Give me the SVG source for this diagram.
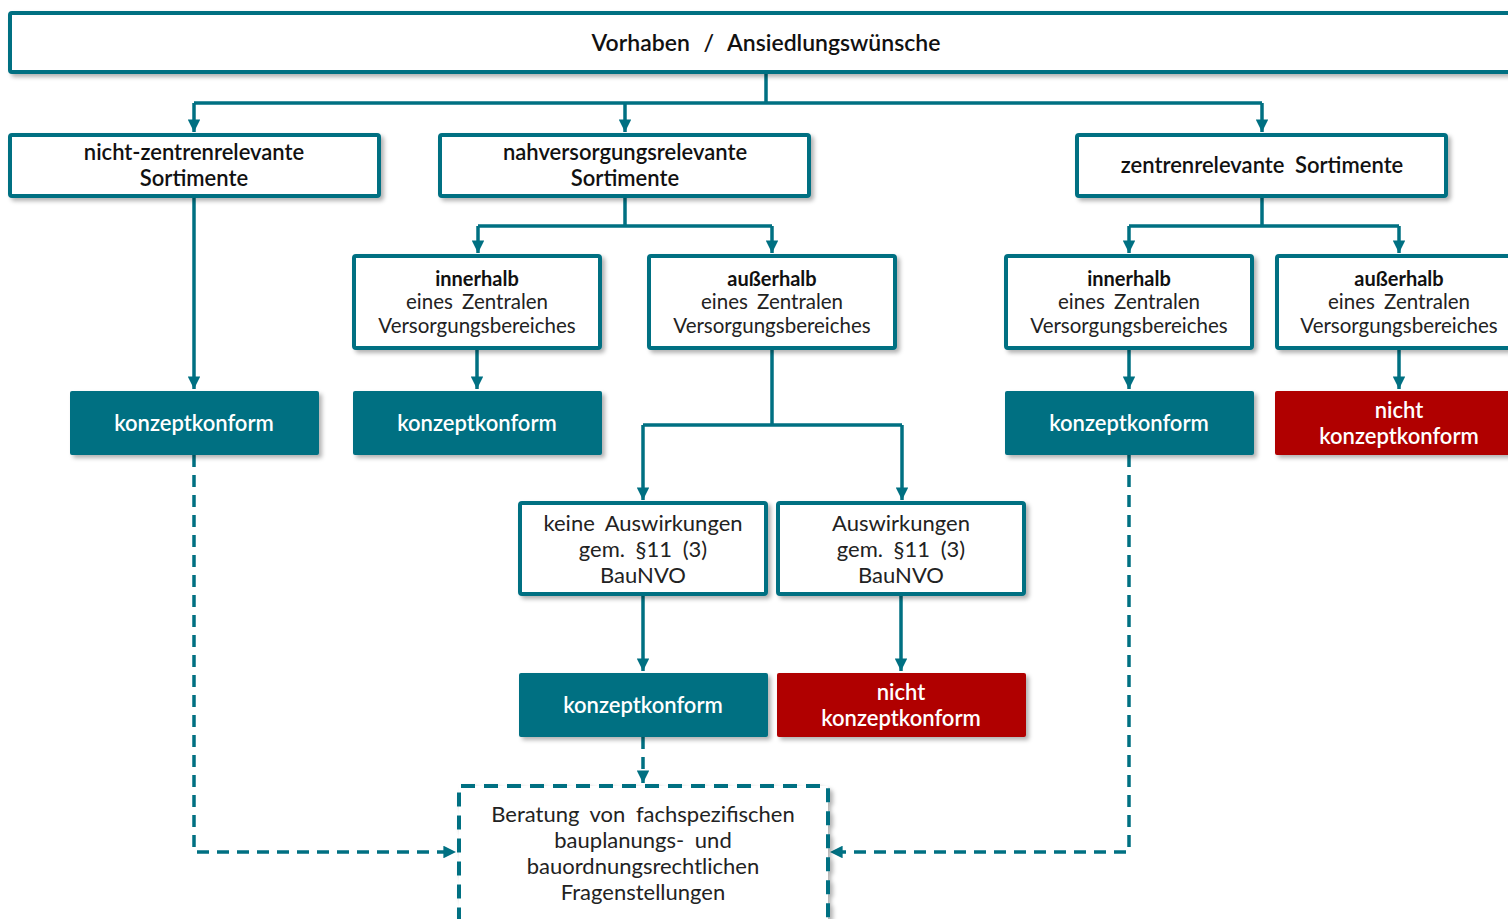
<svg xmlns="http://www.w3.org/2000/svg" width="1508" height="919" viewBox="0 0 1508 919">
<style>
.box{fill:#fff;stroke:#007082;stroke-width:4;filter:url(#sh)}
.ok{fill:#007082;filter:url(#sh)}
.no{fill:#b00000;filter:url(#sh)}
.dbox{fill:#fff;stroke:#007082;stroke-width:4;stroke-dasharray:14 9;filter:url(#sh)}
.ln{fill:none;stroke:#007082;stroke-width:3.5}
.dl{fill:none;stroke:#007082;stroke-width:3.5;stroke-dasharray:12 8}
text{font-family:Lato,"Liberation Sans",sans-serif;text-anchor:middle}
.h{font-size:22px;font-weight:600;fill:#111}
.t{font-size:20.5px;fill:#222;word-spacing:4px}
.b{font-size:20px;font-weight:700;fill:#111}
.w{font-size:22px;font-weight:600;fill:#fff}
.m{font-size:22px;fill:#222;word-spacing:5px}
</style>
<defs>
<filter id="sh" x="-5%" y="-10%" width="115%" height="130%"><feDropShadow dx="3" dy="3" stdDeviation="2" flood-color="#000" flood-opacity="0.3"/></filter>
<marker id="ar" viewBox="0 0 10 10" refX="10" refY="5" markerWidth="3.6" markerHeight="3.6" orient="auto" markerUnits="strokeWidth"><path d="M0,0 L10,5 L0,10 z" fill="#007082"/></marker>
</defs>
<g id="connectors">
<path class="ln" d="M766,72 V103 M194,103 H1262" />
<path class="ln" d="M194,103 V132" marker-end="url(#ar)"/>
<path class="ln" d="M625,103 V132" marker-end="url(#ar)"/>
<path class="ln" d="M1262,103 V132" marker-end="url(#ar)"/>
<path class="ln" d="M194,196 V389" marker-end="url(#ar)"/>
<path class="ln" d="M625,196 V226 M478,226 H772"/>
<path class="ln" d="M478,226 V253" marker-end="url(#ar)"/>
<path class="ln" d="M772,226 V253" marker-end="url(#ar)"/>
<path class="ln" d="M1262,196 V226 M1129,226 H1399"/>
<path class="ln" d="M1129,226 V253" marker-end="url(#ar)"/>
<path class="ln" d="M1399,226 V253" marker-end="url(#ar)"/>
<path class="ln" d="M477,348 V389" marker-end="url(#ar)"/>
<path class="ln" d="M1129,348 V389" marker-end="url(#ar)"/>
<path class="ln" d="M1399,348 V389" marker-end="url(#ar)"/>
<path class="ln" d="M772,348 V425 M643,425 H902"/>
<path class="ln" d="M643,425 V500" marker-end="url(#ar)"/>
<path class="ln" d="M902,425 V500" marker-end="url(#ar)"/>
<path class="ln" d="M643,594 V671" marker-end="url(#ar)"/>
<path class="ln" d="M901,594 V671" marker-end="url(#ar)"/>
<path class="dl" d="M194,455 V852 H456" marker-end="url(#ar)"/>
<path class="dl" d="M1129,455 V852 H830" marker-end="url(#ar)"/>
<path class="dl" d="M643,737 V783" marker-end="url(#ar)"/>
</g>
<g id="top"><rect class="box" x="10" y="13" width="1510" height="59" rx="2"/><text class="h" x="766" y="51" style="font-size:23px;word-spacing:8px">Vorhaben / Ansiedlungswünsche</text></g>
<g id="nzr"><rect class="box" x="10" y="135" width="369" height="61" rx="2"/><text class="h" x="194" y="160">nicht-zentrenrelevante</text><text class="h" x="194" y="186">Sortimente</text></g>
<g id="nvr"><rect class="box" x="440" y="135" width="369" height="61" rx="2"/><text class="h" x="625" y="160">nahversorgungsrelevante</text><text class="h" x="625" y="186">Sortimente</text></g>
<g id="zr"><rect class="box" x="1077" y="135" width="369" height="61" rx="2"/><text class="h" x="1262" y="173" word-spacing="5">zentrenrelevante Sortimente</text></g>
<g id="nvr-in"><rect class="box" x="354" y="256" width="246" height="92" rx="2"/><text class="b" x="477" y="286">innerhalb</text><text class="t" x="477" y="309">eines Zentralen</text><text class="t" x="477" y="333">Versorgungsbereiches</text></g>
<g id="nvr-aus"><rect class="box" x="649" y="256" width="246" height="92" rx="2"/><text class="b" x="772" y="286">außerhalb</text><text class="t" x="772" y="309">eines Zentralen</text><text class="t" x="772" y="333">Versorgungsbereiches</text></g>
<g id="zr-in"><rect class="box" x="1006" y="256" width="246" height="92" rx="2"/><text class="b" x="1129" y="286">innerhalb</text><text class="t" x="1129" y="309">eines Zentralen</text><text class="t" x="1129" y="333">Versorgungsbereiches</text></g>
<g id="zr-aus"><rect class="box" x="1277" y="256" width="246" height="92" rx="2"/><text class="b" x="1399" y="286">außerhalb</text><text class="t" x="1399" y="309">eines Zentralen</text><text class="t" x="1399" y="333">Versorgungsbereiches</text></g>
<g id="k1"><rect class="ok" x="70" y="391" width="249" height="64" rx="2"/><text class="w" x="194" y="431">konzeptkonform</text></g>
<g id="k2"><rect class="ok" x="353" y="391" width="249" height="64" rx="2"/><text class="w" x="477" y="431">konzeptkonform</text></g>
<g id="k3"><rect class="ok" x="1005" y="391" width="249" height="64" rx="2"/><text class="w" x="1129" y="431">konzeptkonform</text></g>
<g id="n1"><rect class="no" x="1275" y="391" width="250" height="64" rx="2"/><text class="w" x="1399" y="418">nicht</text><text class="w" x="1399" y="444">konzeptkonform</text></g>
<g id="keine"><rect class="box" x="520" y="503" width="246" height="91" rx="2"/><text class="m" x="643" y="531">keine Auswirkungen</text><text class="m" x="643" y="557">gem. §11 (3)</text><text class="m" x="643" y="583">BauNVO</text></g>
<g id="ausw"><rect class="box" x="778" y="503" width="246" height="91" rx="2"/><text class="m" x="901" y="531">Auswirkungen</text><text class="m" x="901" y="557">gem. §11 (3)</text><text class="m" x="901" y="583">BauNVO</text></g>
<g id="k4"><rect class="ok" x="519" y="673" width="249" height="64" rx="2"/><text class="w" x="643" y="713">konzeptkonform</text></g>
<g id="n2"><rect class="no" x="777" y="673" width="249" height="64" rx="2"/><text class="w" x="901" y="700">nicht</text><text class="w" x="901" y="726">konzeptkonform</text></g>
<g id="beratung"><rect class="dbox" x="459" y="786" width="369" height="150" rx="2"/><text class="m" x="643" y="822">Beratung von fachspezifischen</text><text class="m" x="643" y="848">bauplanungs- und</text><text class="m" x="643" y="874">bauordnungsrechtlichen</text><text class="m" x="643" y="900">Fragenstellungen</text></g>
</svg>
